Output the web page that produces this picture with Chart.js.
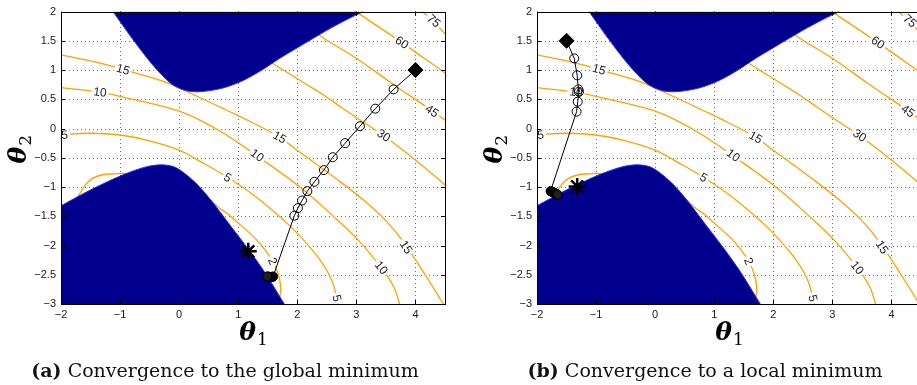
<!DOCTYPE html>
<html>
<head>
<meta charset="utf-8">
<script src="https://cdn.jsdelivr.net/npm/chart.js@4.4.1/dist/chart.umd.min.js"></script>
<style>
  html, body { margin: 0; padding: 0; background: #fff; overflow: hidden; width: 917px; height: 385px; }
  canvas { position: absolute; top: 0; }
  #chartA { left: 0; }
  #chartB { left: 476px; }
</style>
</head>
<body>
<canvas id="chartA" width="460" height="385"></canvas>
<canvas id="chartB" width="460" height="385"></canvas>
<script>
// axis ticks
const xTicks = [-2, -1, 0, 1, 2, 3, 4];
const yTicks = [-3, -2.5, -2, -1.5, -1, -0.5, 0, 0.5, 1, 1.5, 2];

// contour lines [theta1, theta2]
const contour2a = [[0.4, -1.1], [0.68, -1.36], [0.81, -1.45], [1.05, -1.66], [1.28, -1.87], [1.45, -2.07], [1.58, -2.26], [1.68, -2.5], [1.72, -2.72], [1.7, -2.9], [1.64, -3.05]];
const contour2b = [[-1.9, -1.4], [-1.71, -1.16], [-1.6, -0.98], [-1.48, -0.86], [-1.3, -0.79], [-1.1, -0.775], [-0.92, -0.77], [-0.75, -0.8]];
const contour5 = [[-2.1, -0.12], [-2, -0.11], [-1.5, -0.08], [-1, -0.11], [-0.5, -0.21], [0, -0.37], [0.35, -0.56], [0.83, -0.84], [1.33, -1.19], [1.9, -1.69], [2.35, -2.2], [2.58, -2.59], [2.69, -3], [2.71, -3.1]];
const contour10 = [[-2.1, 0.71], [-2, 0.7], [-1.34, 0.62], [-0.78, 0.5], [0, 0.3], [0.36, 0.14], [0.8, -0.11], [1.31, -0.46], [2.07, -1.02], [2.63, -1.52], [3.05, -1.93], [3.42, -2.38], [3.63, -2.7], [3.73, -3], [3.76, -3.1]];
const contour15 = [[-2.1, 1.28], [-2, 1.26], [-1.34, 1.12], [-0.95, 1.01], [-0.5, 0.88], [-0.2, 0.78], [0.2, 0.6], [0.77, 0.33], [1.2, 0.12], [1.7, -0.15], [2.05, -0.41], [2.62, -0.83], [3.14, -1.24], [3.55, -1.63], [3.85, -2.02], [4.22, -2.59], [4.47, -3], [4.52, -3.1]];
const contour30 = [[1.0, 1.47], [1.62, 1.09], [2.18, 0.74], [2.45, 0.57], [2.75, 0.36], [3.1, 0.12], [3.46, -0.12], [4.05, -0.58], [4.6, -1.05]];
const contour45 = [[1.9, 1.95], [2.41, 1.57], [3.03, 1.18], [3.59, 0.78], [4.3, 0.29], [4.6, 0.07]];
const contour60 = [[2.7, 2.2], [3.08, 1.94], [3.77, 1.47], [4.5, 0.95], [4.6, 0.88]];
const contour75 = [[3.9, 2.2], [4.14, 1.98], [4.31, 1.83], [4.5, 1.62], [4.6, 1.53]];

// where the level numbers sit on the lines
const labels2 = [[1.58, -2.27]];
const labels5 = [[-1.94, -0.11], [0.82, -0.84], [2.67, -2.9]];
const labels10 = [[-1.34, 0.62], [1.32, -0.46], [3.42, -2.38]];
const labels15 = [[-0.95, 1.01], [1.7, -0.15], [3.84, -2.03]];
const labels30 = [[3.46, -0.12]];
const labels45 = [[4.28, 0.3]];
const labels60 = [[3.77, 1.47]];
const labels75 = [[4.31, 1.84]];

// edges of the two infeasible (blue) regions
const upperRegion = [[-1.12, 2.0], [-0.78, 1.52], [-0.44, 1.08], [-0.15, 0.78], [0.05, 0.67], [0.25, 0.63], [0.5, 0.645], [0.8, 0.71], [1.1, 0.83], [1.4, 1.0], [1.7, 1.2], [2.0, 1.38], [2.5, 1.68], [2.85, 1.87], [3.12, 2.0]];
const lowerRegion = [[-2, -1.32], [-1.54, -1.07], [-0.97, -0.8], [-0.58, -0.66], [-0.3, -0.62], [-0.05, -0.67], [0.27, -0.92], [0.55, -1.24], [0.89, -1.69], [1.17, -2.06], [1.45, -2.46], [1.78, -3.0]];

// iterates, start points and minima
const pathA = [[4, 1], [3.63, 0.67], [3.32, 0.34], [3.06, 0.04], [2.81, -0.25], [2.6, -0.49], [2.45, -0.71], [2.29, -0.91], [2.17, -1.07], [2.08, -1.23], [2.01, -1.36], [1.95, -1.49], [1.59, -2.53], [1.58, -2.535], [1.57, -2.54], [1.56, -2.54], [1.55, -2.54], [1.54, -2.54], [1.53, -2.54], [1.52, -2.535], [1.51, -2.535], [1.5, -2.53], [1.49, -2.53]];
const startA = [[4, 1]];
const minA = [[1.17, -2.1]];

const pathB = [[-1.5, 1.5], [-1.37, 1.2], [-1.32, 0.91], [-1.3, 0.67], [-1.29, 0.63], [-1.31, 0.46], [-1.33, 0.29], [-1.77, -1.07], [-1.76, -1.075], [-1.75, -1.08], [-1.74, -1.085], [-1.73, -1.09], [-1.72, -1.095], [-1.71, -1.1], [-1.7, -1.105], [-1.69, -1.11], [-1.68, -1.115], [-1.67, -1.12], [-1.66, -1.125], [-1.65, -1.13]];
const startB = [[-1.5, 1.5]];
const minB = [[-1.32, -0.99]];

// index where the iterates bunch up near the end
const clusterFromA = 12;
const clusterFromB = 7;

const contourSets = [
  { piece: contour2a, labels: labels2 },
  { piece: contour2b, labels: [] },
  { piece: contour5, labels: labels5 },
  { piece: contour10, labels: labels10 },
  { piece: contour15, labels: labels15 },
  { piece: contour30, labels: labels30 },
  { piece: contour45, labels: labels45 },
  { piece: contour60, labels: labels60 },
  { piece: contour75, labels: labels75 },
];
const levelOf = [2, 2, 5, 10, 15, 30, 45, 60, 75];

const toXY = a => a.map(p => ({ x: p[0], y: p[1] }));
const fmt = v => (v < 0 ? "\u2212" : "") + Math.abs(v);

const figurePlugin = {
  id: "figure",
  beforeDatasetsDraw(chart) {
    // dotted grid
    const { ctx, chartArea: a, scales } = chart;
    ctx.save();
    ctx.strokeStyle = "rgba(0,0,0,0.55)";
    ctx.lineWidth = 1;
    ctx.setLineDash([1, 3]);
    xTicks.forEach(v => {
      const x = Math.round(scales.x.getPixelForValue(v)) + 0.5;
      if (x <= a.left + 1 || x >= a.right - 1) return;
      ctx.beginPath(); ctx.moveTo(x, a.bottom); ctx.lineTo(x, a.top); ctx.stroke();
    });
    yTicks.forEach(v => {
      const y = Math.round(scales.y.getPixelForValue(v)) + 0.5;
      if (y <= a.top + 1 || y >= a.bottom - 1) return;
      ctx.beginPath(); ctx.moveTo(a.left, y); ctx.lineTo(a.right, y); ctx.stroke();
    });
    ctx.restore();
  },
  afterDatasetDraw(chart, args) {
    const ds = chart.data.datasets[args.index];
    if (!ds.levelLabels || !ds.levelLabels.length) return;
    const { ctx, scales } = chart;
    const px = ds.data.map(p => [scales.x.getPixelForValue(p.x), scales.y.getPixelForValue(p.y)]);
    ctx.save();
    ctx.font = '12px "Liberation Sans", Arial, sans-serif';
    ctx.textAlign = "center";
    ctx.textBaseline = "middle";
    ds.levelLabels.forEach(lp => {
      const tx = scales.x.getPixelForValue(lp[0]);
      const ty = scales.y.getPixelForValue(lp[1]);
      let best = null;
      for (let i = 0; i < px.length - 1; i++) {
        const [x1, y1] = px[i], [x2, y2] = px[i + 1];
        const dx = x2 - x1, dy = y2 - y1;
        let t = ((tx - x1) * dx + (ty - y1) * dy) / (dx * dx + dy * dy);
        t = Math.max(0, Math.min(1, t));
        const d = (x1 + t * dx - tx) ** 2 + (y1 + t * dy - ty) ** 2;
        if (!best || d < best.d) best = { d, ang: Math.atan2(dy, dx) };
      }
      let ang = best.ang;
      if (ang > Math.PI / 2) ang -= Math.PI;
      if (ang < -Math.PI / 2) ang += Math.PI;
      const txt = String(ds.level);
      const w = ctx.measureText(txt).width + 4;
      ctx.save();
      ctx.translate(tx, ty);
      ctx.rotate(ang);
      ctx.fillStyle = "#fff";
      ctx.fillRect(-w / 2, -5.5, w, 11);
      ctx.fillStyle = "#222";
      ctx.fillText(txt, 0, 0.5);
      ctx.restore();
    });
    ctx.restore();
  },
  afterDraw(chart, args, opts) {
    const { ctx, chartArea: a, scales } = chart;
    ctx.save();
    // box and inward ticks
    ctx.strokeStyle = "#000";
    ctx.lineWidth = 1;
    ctx.strokeRect(Math.round(a.left) + 0.5, Math.round(a.top) + 0.5, Math.round(a.right - a.left), Math.round(a.bottom - a.top));
    ctx.beginPath();
    xTicks.forEach(v => {
      const x = Math.round(scales.x.getPixelForValue(v)) + 0.5;
      ctx.moveTo(x, a.bottom); ctx.lineTo(x, a.bottom - 4);
      ctx.moveTo(x, a.top); ctx.lineTo(x, a.top + 4);
    });
    yTicks.forEach(v => {
      const y = Math.round(scales.y.getPixelForValue(v)) + 0.5;
      ctx.moveTo(a.left, y); ctx.lineTo(a.left + 4, y);
      ctx.moveTo(a.right, y); ctx.lineTo(a.right - 4, y);
    });
    ctx.stroke();

    // axis titles: bold italic theta with subscript
    const thetaFont = 'bold italic 25px "DejaVu Serif", serif';
    const subFont = '17px "DejaVu Serif", serif';
    const drawTheta = (sub, cx, baseY) => {
      ctx.font = thetaFont;
      const w1 = ctx.measureText("\u03b8").width;
      ctx.font = subFont;
      const w2 = ctx.measureText(sub).width;
      const x0 = cx - (w1 + w2) / 2;
      ctx.fillStyle = "#000";
      ctx.textBaseline = "alphabetic";
      ctx.textAlign = "left";
      ctx.font = thetaFont;
      ctx.fillText("\u03b8", x0, baseY);
      ctx.font = subFont;
      ctx.fillText(sub, x0 + w1 + 1, baseY + 5);
    };
    drawTheta("1", (a.left + a.right) / 2, 340);
    ctx.save();
    ctx.translate(a.left - 35, (a.top + a.bottom) / 2 - 8);
    ctx.rotate(-Math.PI / 2);
    drawTheta("2", 0, 0);
    ctx.restore();

    // caption
    const boldFont = 'bold 19px "DejaVu Serif", serif';
    const textFont = '19px "DejaVu Serif", serif';
    ctx.font = boldFont;
    const wb = ctx.measureText(opts.tag).width;
    ctx.font = textFont;
    const wt = ctx.measureText(opts.caption).width;
    const x0 = opts.captionX - (wb + wt) / 2;
    ctx.fillStyle = "#111";
    ctx.textAlign = "left";
    ctx.font = boldFont;
    ctx.fillText(opts.tag, x0, 377);
    ctx.font = textFont;
    ctx.fillText(opts.caption, x0 + wb, 377);
    ctx.restore();
  },
};

function buildChart(canvasId, path, clusterFrom, start, minimum, tag, caption, captionX) {
  const datasets = [];
  contourSets.forEach((c, i) => {
    datasets.push({
      data: toXY(c.piece),
      level: levelOf[i],
      levelLabels: c.labels,
      borderColor: "#ffa200",
      borderWidth: 1.3,
      pointRadius: 0,
      tension: 0.4,
      fill: false,
      clip: 0,
      order: 3,
    });
  });
  datasets.push({
    data: toXY(upperRegion),
    borderColor: "#2a2aff",
    borderWidth: 1,
    backgroundColor: "#00008c",
    pointRadius: 0,
    tension: 0.3,
    fill: "end",
    clip: 0,
    order: 2,
  });
  datasets.push({
    data: toXY(lowerRegion),
    borderColor: "#2a2aff",
    borderWidth: 1,
    backgroundColor: "#00008c",
    pointRadius: 0,
    tension: 0.3,
    fill: "start",
    clip: 0,
    order: 2,
  });
  datasets.push({
    data: toXY(path),
    borderColor: "#000",
    borderWidth: 1,
    pointRadius: 4.5,
    pointStyle: "circle",
    pointBorderColor: "#000",
    pointBorderWidth: 1,
    pointBackgroundColor: path.map((p, i) => (i >= clusterFrom ? "#1e1e1e" : "rgba(0,0,0,0)")),
    tension: 0,
    fill: false,
    order: 1,
  });
  datasets.push({
    data: toXY(start),
    showLine: false,
    pointStyle: "rectRot",
    pointRadius: 7.5,
    pointBackgroundColor: "#000",
    pointBorderColor: "#000",
    pointBorderWidth: 1,
    order: 0,
  });
  datasets.push({
    data: toXY(minimum),
    showLine: false,
    pointStyle: "star",
    pointRadius: 8.5,
    pointBorderColor: "#000",
    pointBorderWidth: 2.5,
    order: 0,
  });

  const tickFont = { family: '"Liberation Sans", Arial, sans-serif', size: 11 };
  return new Chart(document.getElementById(canvasId), {
    type: "line",
    data: { datasets },
    options: {
      responsive: false,
      animation: false,
      devicePixelRatio: 1,
      events: [],
      layout: { padding: { left: 0, right: 15, top: 8, bottom: 0 } },
      elements: { line: { capBezierPoints: false } },
      plugins: {
        legend: { display: false },
        tooltip: { enabled: false },
        figure: { tag: tag, caption: caption, captionX: captionX },
      },
      scales: {
        x: {
          type: "linear",
          min: -2,
          max: 4.5,
          afterBuildTicks: s => { s.ticks = xTicks.map(v => ({ value: v })); },
          afterFit: s => { s.height = 81; },
          grid: { display: false, drawTicks: false },
          border: { display: false },
          ticks: { autoSkip: false, maxRotation: 0, padding: 4, font: tickFont, color: "#1a1a1a", callback: v => fmt(v) },
        },
        y: {
          type: "linear",
          min: -3,
          max: 2,
          afterBuildTicks: s => { s.ticks = yTicks.map(v => ({ value: v })); },
          afterFit: s => { s.width = 61; },
          grid: { display: false, drawTicks: false },
          border: { display: false },
          ticks: { autoSkip: false, padding: 5, font: tickFont, color: "#1a1a1a", callback: v => fmt(v) },
        },
      },
    },
    plugins: [figurePlugin],
  });
}

buildChart("chartA", pathA, clusterFromA, startA, minA, "(a)", " Convergence to the global minimum", 225);
buildChart("chartB", pathB, clusterFromB, startB, minB, "(b)", " Convergence to a local minimum", 229);
</script>
</body>
</html>
